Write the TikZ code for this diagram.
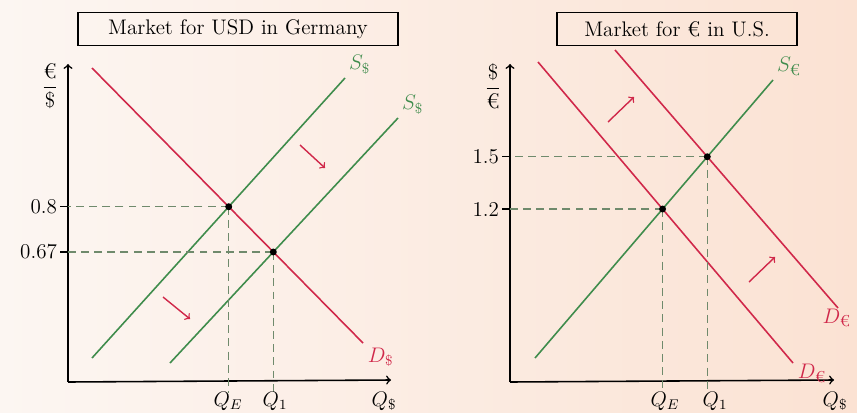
\documentclass[tikz,border=0pt]{standalone}
\usepackage{fontspec}
\usetikzlibrary{positioning,intersections}
\definecolor{dred}{HTML}{D0284A}
\definecolor{sgreen}{HTML}{3F8C4C}
\definecolor{guidecol}{HTML}{6F8A6C}
\definecolor{bgleft}{HTML}{FCF6F2}
\definecolor{bgright}{HTML}{FBE2D3}
\tikzset{
  curve/.style={line width=0.9pt},
  guide/.style={dash pattern=on 4.5pt off 3pt, guidecol, line width=0.8pt},
  titlebox/.style={draw, line width=0.9pt, minimum height=0.66cm, inner sep=2pt, font=\large},
  eqdot/.style={circle, fill=black, inner sep=1.4pt},
}
\begin{document}
\begin{tikzpicture}[x=0.02cm,y=-0.02cm,font=\large]
\shade[left color=bgleft,right color=bgright] (0,0) rectangle (857,412);
\useasboundingbox (0,0) rectangle (857,412);

% market for USD in Germany
\node[titlebox, minimum width=6.4cm] (titleL) at (238,29) {Market for USD in Germany};
\coordinate (oL) at (68,382);
\coordinate (yL) at (68,64);
\coordinate (xL) at (391,380);
\draw[->, line width=0.9pt] (oL) -- (yL);
\draw[->, line width=0.9pt] (oL) -- (xL);
\node (pL) at (50,86) {$\displaystyle\frac{\mbox{€}}{\$}$};

\draw[curve, dred, name path=dL] (92,68) -- (363,343) node[right=-1pt, pos=1, yshift=-8pt] (dlabL) {$D_{\$}$};
\draw[curve, sgreen, name path=sL1] (92,358) -- (345,78) node[pos=1, above right=-2pt] (slabL1) {$S_{\$}$};
\draw[curve, sgreen, name path=sL2] (170,363) -- (398,118) node[pos=1, above right=-2pt] (slabL2) {$S_{\$}$};
\path[name intersections={of=dL and sL1, by=eL}];
\path[name intersections={of=dL and sL2, by=aL}];

\draw[guide] (eL) -- (eL -| oL);
\draw[guide] (aL) -- (aL -| oL);
\draw[guide] (eL) -- ([yshift=-6pt]eL |- oL);
\draw[guide] (aL) -- ([yshift=-6pt]aL |- oL);
\draw[line width=0.8pt] (eL -| oL) -- ++(-8,0) node[left=-2pt] (pE) {0.8};
\draw[line width=0.8pt] (aL -| oL) -- ++(-8,0) node[left=-2pt] (p1) {0.67};
\node[eqdot] at (eL) {};
\node[eqdot] at (aL) {};
\node (qEL) at (228,401) {$Q_E$};
\node (q1L) at (275,401) {$Q_1$};
\node (qL) at (384,401) {$Q_{\$}$};

\draw[->, dred, line width=0.8pt] (300,145) -- (325,168);
\draw[->, dred, line width=0.8pt] (163,297) -- (190,319);

% market for euro in U.S.
\node[titlebox, minimum width=4.8cm] (titleR) at (677,29) {Market for € in U.S.};
\coordinate (oR) at (510,382);
\coordinate (yR) at (510,64);
\coordinate (xR) at (834,380);
\draw[->, line width=0.9pt] (oR) -- (yR);
\draw[->, line width=0.9pt] (oR) -- (xR);
\node (pR) at (493,86) {$\displaystyle\frac{\$}{\mbox{€}}$};

\draw[curve, dred, name path=dR1] (538,62) -- (793,363) node[pos=1, right=-1pt, yshift=-6pt] (dlabR1) {$D_{\mbox{\small€}}$};
\draw[curve, dred, name path=dR2] (615,50) -- (838,308);
\node[dred, anchor=east] (dlabR2) at (857,318) {$D_{\mbox{\small€}}$};
\draw[curve, sgreen, name path=sR] (535,358) -- (773,80) node[pos=1, above right=-2pt] (slabR) {$S_{\mbox{\small€}}$};
\path[name intersections={of=dR1 and sR, by=eR}];
\path[name intersections={of=dR2 and sR, by=aR}];

\draw[guide] (eR) -- (eR -| oR);
\draw[guide] (aR) -- (aR -| oR);
\draw[guide] (eR) -- ([yshift=-6pt]eR |- oR);
\draw[guide] (aR) -- ([yshift=-6pt]aR |- oR);
\draw[line width=0.8pt] (eR -| oR) -- ++(-8,0) node[left=-2pt] (rE) {1.2};
\draw[line width=0.8pt] (aR -| oR) -- ++(-8,0) node[left=-2pt] (r1) {1.5};
\node[eqdot] at (eR) {};
\node[eqdot] at (aR) {};
\node (qER) at (665,401) {$Q_E$};
\node (q1R) at (715,401) {$Q_1$};
\node (qR) at (835,401) {$Q_{\$}$};

\draw[->, dred, line width=0.8pt] (608,122) -- (634,97);
\draw[->, dred, line width=0.8pt] (749,282) -- (775,257);
\end{tikzpicture}
\end{document}
